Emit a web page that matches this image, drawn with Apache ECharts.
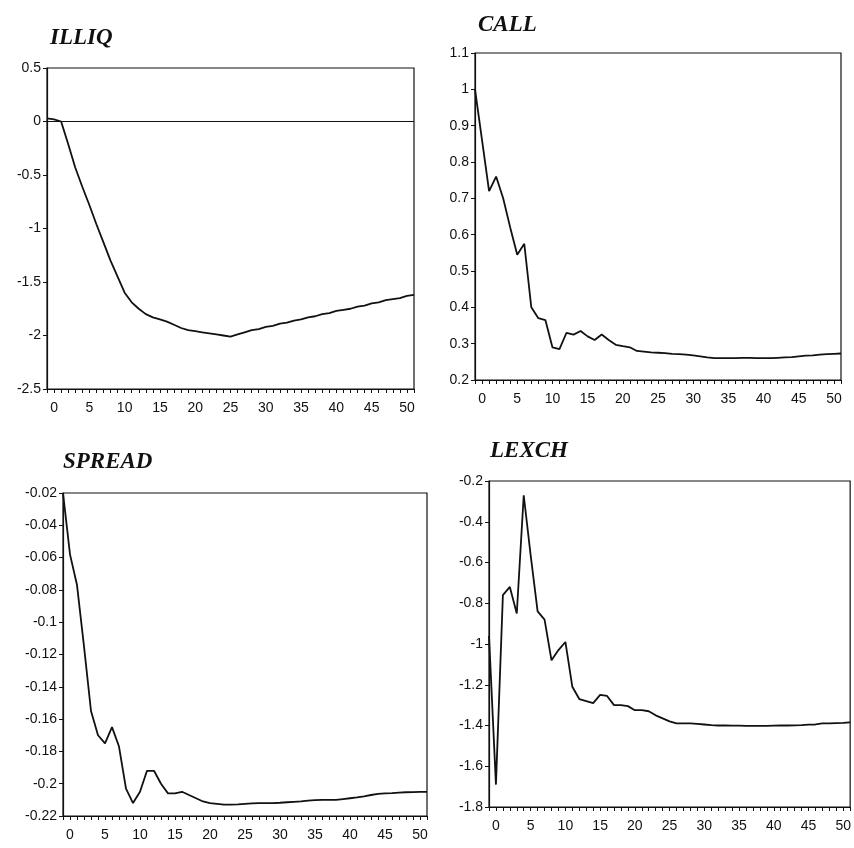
<!DOCTYPE html>
<html>
<head>
<meta charset="utf-8">
<script src="https://cdn.jsdelivr.net/npm/echarts@6/dist/echarts.min.js"></script>
<style>
  html, body { margin: 0; padding: 0; background: #fff; }
  #chart { width: 854px; height: 848px; }
</style>
</head>
<body>
<div id="chart"></div>
<script>
// horizon: -1 .. 51
const periods = Array.from({ length: 53 }, (_, i) => i - 1)

const illiq = [
  0.03, 0.02, 0.0, -0.21, -0.43, -0.61, -0.78, -0.96, -1.13, -1.30,
  -1.45, -1.60, -1.69, -1.75, -1.80, -1.83, -1.85, -1.87, -1.90, -1.93,
  -1.95, -1.96, -1.97, -1.98, -1.99, -2.00, -2.01, -1.99, -1.97, -1.95,
  -1.94, -1.92, -1.91, -1.89, -1.88, -1.86, -1.85, -1.83, -1.82, -1.80,
  -1.79, -1.77, -1.76, -1.75, -1.73, -1.72, -1.70, -1.69, -1.67, -1.66,
  -1.65, -1.63, -1.62
]
const call = [
  1.0, 0.86, 0.72, 0.76, 0.70, 0.62, 0.545, 0.575, 0.40, 0.37,
  0.365, 0.29, 0.285, 0.33, 0.325, 0.335, 0.32, 0.31, 0.325, 0.31,
  0.297, 0.293, 0.29, 0.28, 0.278, 0.276, 0.275, 0.274, 0.272, 0.271,
  0.27, 0.268, 0.265, 0.262, 0.26, 0.26, 0.26, 0.26, 0.261, 0.261,
  0.26, 0.26, 0.26, 0.261, 0.262, 0.263, 0.265, 0.267, 0.268, 0.27,
  0.271, 0.272, 0.273
]
const spread = [
  -0.02, -0.058, -0.077, -0.115, -0.155, -0.170, -0.175, -0.165, -0.177, -0.203,
  -0.212, -0.205, -0.192, -0.192, -0.200, -0.206, -0.206, -0.205, -0.207, -0.209,
  -0.211, -0.212, -0.2125, -0.213, -0.213, -0.2128, -0.2125, -0.2122, -0.212, -0.212,
  -0.212, -0.2118, -0.2115, -0.2112, -0.211, -0.2105, -0.2102, -0.21, -0.21, -0.21,
  -0.2095, -0.209, -0.2085, -0.2078, -0.207, -0.2063, -0.206, -0.2058, -0.2055, -0.2053,
  -0.2052, -0.205, -0.205
]
const lexch = [
  -0.96, -1.69, -0.76, -0.72, -0.85, -0.27, -0.565, -0.84, -0.88, -1.08,
  -1.03, -0.99, -1.21, -1.27, -1.28, -1.29, -1.25, -1.255, -1.30, -1.30,
  -1.305, -1.325, -1.325, -1.33, -1.35, -1.365, -1.38, -1.39, -1.39, -1.39,
  -1.392, -1.395, -1.398, -1.40, -1.40, -1.401, -1.401, -1.402, -1.402, -1.402,
  -1.402, -1.401, -1.40, -1.40, -1.399, -1.398, -1.396, -1.395, -1.39, -1.39,
  -1.388, -1.387, -1.385
]

const panels = [
  { name: 'ILLIQ', data: illiq, min: -2.5, max: 0.5, step: 0.5, zero: true,
    grid: { left: 47, top: 68, width: 367, height: 321 }, title: { left: 45, top: 22 } },
  { name: 'CALL', data: call, min: 0.2, max: 1.1, step: 0.1,
    grid: { left: 475, top: 53, width: 366, height: 327 }, title: { left: 473, top: 9 } },
  { name: 'SPREAD', data: spread, min: -0.22, max: -0.02, step: 0.02,
    grid: { left: 63, top: 493, width: 364, height: 323 }, title: { left: 58, top: 446 } },
  { name: 'LEXCH', data: lexch, min: -1.8, max: -0.2, step: 0.2,
    grid: { left: 489, top: 481, width: 364, height: 326 }, title: { left: 485, top: 435 } }
]

const labelFont = { color: '#111', fontFamily: 'Liberation Sans', fontSize: 14 }
const black = '#111'

const chart = echarts.init(document.getElementById('chart'))
chart.setOption({
  backgroundColor: '#fff',
  animation: false,
  title: panels.map(p => ({
    text: p.name,
    left: p.title.left,
    top: p.title.top,
    textStyle: {
      fontFamily: 'Liberation Serif',
      fontStyle: 'italic',
      fontWeight: 'bold',
      fontSize: 23,
      color: black
    }
  })),
  grid: panels.map(p => Object.assign({
    show: true,
    borderColor: black,
    borderWidth: 1.2,
    backgroundColor: 'transparent'
  }, p.grid)),
  xAxis: panels.map((p, i) => ({
    type: 'value',
    gridIndex: i,
    min: -1,
    max: 51,
    interval: 1,
    axisLine: { onZero: false, lineStyle: { color: black, width: 1.2 } },
    axisTick: { length: 4, lineStyle: { color: black } },
    splitLine: { show: false },
    axisLabel: Object.assign({
      margin: 12,
      formatter: v => (v >= 0 && v % 5 === 0 ? String(v) : '')
    }, labelFont)
  })),
  yAxis: panels.map((p, i) => ({
    type: 'value',
    gridIndex: i,
    min: p.min,
    max: p.max,
    interval: p.step,
    axisLine: { show: true, onZero: false, lineStyle: { color: black, width: 1.2 } },
    axisTick: { show: true, length: 4, lineStyle: { color: black } },
    splitLine: { show: false },
    axisLabel: Object.assign({
      margin: 6,
      formatter: v => String(+v.toFixed(3))
    }, labelFont)
  })),
  series: panels.map((p, i) => ({
    type: 'line',
    name: p.name,
    xAxisIndex: i,
    yAxisIndex: i,
    showSymbol: false,
    lineStyle: { color: black, width: 1.8 },
    data: periods.map((t, k) => [t, p.data[k]]),
    markLine: p.zero ? {
      silent: true,
      symbol: 'none',
      label: { show: false },
      lineStyle: { color: black, width: 1.2, type: 'solid' },
      data: [{ yAxis: 0 }]
    } : undefined
  }))
})
</script>
</body>
</html>
